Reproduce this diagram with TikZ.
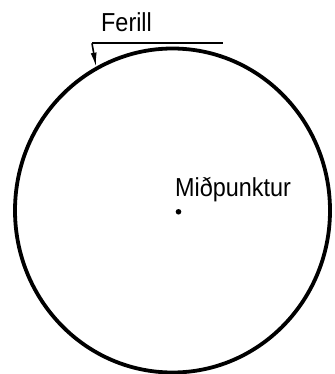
\documentclass[tikz,border=0pt]{standalone}
\usepackage{fontspec}
\setmainfont[FakeStretch=0.9]{Liberation Sans}
\usepackage{tikz}
\usetikzlibrary{shapes.geometric, arrows.meta, positioning}
\tikzset{
  %% Outline of the path
  hring/.style={
    ellipse, draw=black, line width=3.8pt,
    minimum width=315pt, minimum height=324pt,
    inner sep=0pt
  },
  %% Labels
  merki/.style={font=\fontsize{26}{30}\selectfont, inner sep=0pt},
  %% Thin lines
  strik/.style={draw=black, line width=1.7pt},
  %% Leader with a wedge tip
  visir/.style={-{Latex[length=14pt,width=6pt]},
                draw=black, line width=1.6pt},
}

\begin{document}
\begin{tikzpicture}[x=1pt, y=-1pt]
  \useasboundingbox (0,0) rectangle (334,374);

  %% ---- Circle and centre ----
  \node[hring] (hringur) at (172.5,210.5) {};
  \fill (178.5,211.8) circle (2.8pt);
  \coordinate (midja) at (178.5,211.8);
  \node[merki, anchor=base west] (midpunktur) at (175,196.5) {Miðpunktur};

  %% ---- Tangent and label ----
  \coordinate (strikA) at (92,43.3);
  \coordinate (strikB) at (223,43.3);
  \draw[strik] (strikA) -- (strikB);
  \draw[visir] (strikA) -- (hringur.118);
  \node[merki, anchor=base west] (ferill) at (101,31.5) {Ferill};

\end{tikzpicture}
\end{document}
